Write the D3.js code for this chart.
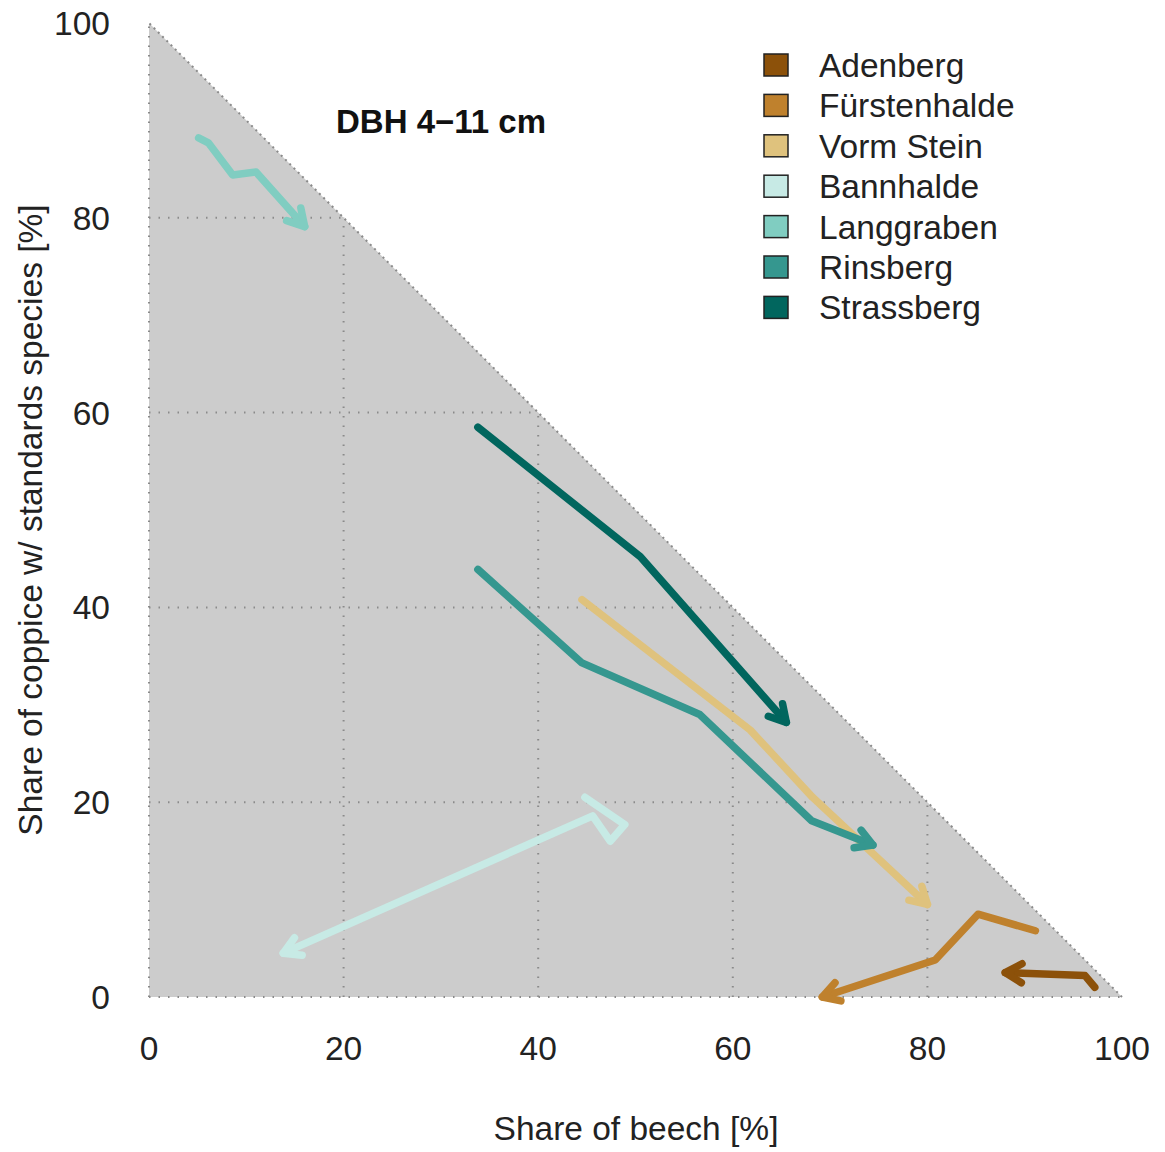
<!DOCTYPE html>
<html lang="en">
<head>
<meta charset="UTF-8">
<title>DBH 4-11 cm</title>
<script src="https://cdnjs.cloudflare.com/ajax/libs/d3/7.8.5/d3.min.js"></script>
<style>
  body { margin: 0; background: #fff; }
  text { font-family: "Liberation Sans", Arial, sans-serif; }
</style>
</head>
<body>
<svg width="1165" height="1152" id="canvas"></svg>
<script>
// stands, in legend order
const stands = ["Adenberg", "Fürstenhalde", "Vorm Stein", "Bannhalde", "Langgraben", "Rinsberg", "Strassberg"];
const standColors = ["#8c510a", "#bf812d", "#dfc27d", "#c7eae5", "#80cdc1", "#35978f", "#01665e"];

// trajectories: [share of beech, share of coppice w/ standards species]
const adenberg = [[97.2, 1.0], [96.2, 2.2], [88.0, 2.5]];
const fuerstenhalde = [[91.1, 6.8], [85.2, 8.5], [80.8, 3.8], [69.2, 0.0]];
const vormStein = [[44.5, 40.8], [61.8, 27.4], [68.2, 20.5], [80.0, 9.5]];
const bannhalde = [[44.8, 20.5], [48.9, 17.7], [47.4, 16.0], [45.6, 18.6], [13.8, 4.5]];
const langgraben = [[5.1, 88.2], [6.1, 87.7], [8.6, 84.4], [11.0, 84.7], [16.0, 79.1]];
const rinsberg = [[33.8, 43.9], [44.5, 34.3], [56.6, 29.0], [68.1, 18.1], [74.4, 15.6]];
const strassberg = [[33.8, 58.5], [50.5, 45.2], [65.5, 28.2]];

const xTicks = [0, 20, 40, 60, 80, 100];
const yTicks = [0, 20, 40, 60, 80, 100];

const series = [adenberg, fuerstenhalde, vormStein, bannhalde, langgraben, rinsberg, strassberg];

const svg = d3.select("#canvas");
const x = d3.scaleLinear().domain([0, 100]).range([149, 1122]);
const y = d3.scaleLinear().domain([0, 100]).range([997, 23]);
const fs = 33.5;

// grey triangle
svg.append("path")
  .attr("d", `M${x(0)},${y(0)}L${x(100)},${y(0)}L${x(0)},${y(100)}Z`)
  .attr("fill", "#cccccc");

// dotted grid, only inside the triangle
const grid = svg.append("g")
  .attr("stroke", "#8a8a8a")
  .attr("stroke-width", 2)
  .attr("stroke-dasharray", "1.5,8")
  .attr("fill", "none");
xTicks.filter(v => v < 100).forEach(v => {
  grid.append("line").attr("x1", x(v)).attr("x2", x(v)).attr("y1", y(0)).attr("y2", y(100 - v));
});
yTicks.filter(v => v < 100).forEach(v => {
  grid.append("line").attr("x1", x(0)).attr("x2", x(100 - v)).attr("y1", y(v)).attr("y2", y(v));
});
grid.append("line").attr("x1", x(100)).attr("y1", y(0)).attr("x2", x(0)).attr("y2", y(100))
  .attr("stroke-dasharray", "2,4");

// tick labels
svg.append("g").selectAll("text").data(xTicks).join("text")
  .attr("x", d => x(d)).attr("y", 1060)
  .attr("text-anchor", "middle").attr("font-size", fs).attr("fill", "#222")
  .text(d => d);
svg.append("g").selectAll("text").data(yTicks).join("text")
  .attr("x", 110).attr("y", d => y(d) + 12)
  .attr("text-anchor", "end").attr("font-size", fs).attr("fill", "#222")
  .text(d => d);

// axis titles
svg.append("text").attr("x", 636).attr("y", 1140)
  .attr("text-anchor", "middle").attr("font-size", fs).attr("fill", "#222")
  .text("Share of beech [%]");
svg.append("text").attr("transform", "translate(42,520) rotate(-90)")
  .attr("text-anchor", "middle").attr("font-size", fs).attr("fill", "#222")
  .text("Share of coppice w/ standards species [%]");

// panel title
svg.append("text").attr("x", 336).attr("y", 133)
  .attr("font-size", 33).attr("font-weight", "bold").attr("fill", "#111")
  .text("DBH 4\u221211 cm");

// trajectories with open arrowheads
const line = d3.line().x(d => x(d[0])).y(d => y(d[1]));
const paths = svg.append("g").attr("fill", "none")
  .attr("stroke-width", 7.5).attr("stroke-linecap", "round").attr("stroke-linejoin", "round");
series.forEach((pts, i) => {
  const c = standColors[i];
  paths.append("path").attr("d", line(pts)).attr("stroke", c);
  const a = pts[pts.length - 2], b = pts[pts.length - 1];
  const tx = x(b[0]), ty = y(b[1]);
  const ang = Math.atan2(ty - y(a[1]), tx - x(a[0]));
  const len = 19, spread = Math.PI / 6;
  const head = [
    [tx - len * Math.cos(ang - spread), ty - len * Math.sin(ang - spread)],
    [tx, ty],
    [tx - len * Math.cos(ang + spread), ty - len * Math.sin(ang + spread)]
  ];
  paths.append("path").attr("d", d3.line()(head)).attr("stroke", c);
});

// legend
const legend = svg.append("g").selectAll("g").data(stands).join("g")
  .attr("transform", (d, i) => `translate(764,${54 + i * 40.4})`);
legend.append("rect").attr("width", 24).attr("height", 22)
  .attr("fill", (d, i) => standColors[i]).attr("stroke", "#222").attr("stroke-width", 1.5);
legend.append("text").attr("x", 55).attr("y", 23)
  .attr("font-size", fs).attr("fill", "#222")
  .text(d => d);
</script>
</body>
</html>
